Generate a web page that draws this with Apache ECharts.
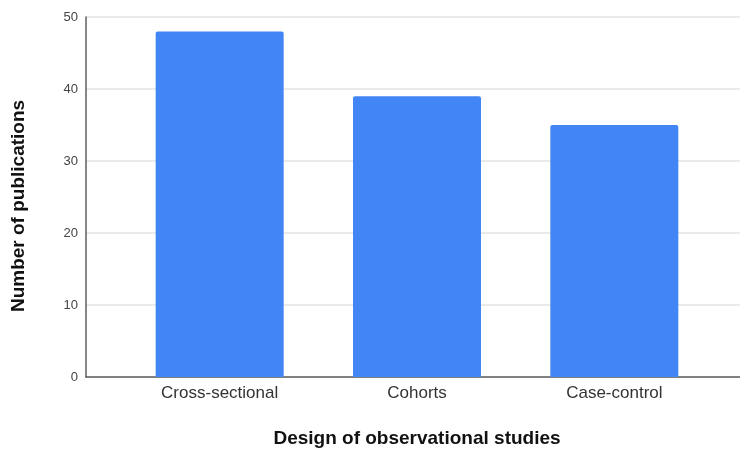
<!DOCTYPE html>
<html>
<head>
<meta charset="utf-8">
<script src="https://cdn.jsdelivr.net/npm/echarts@6/dist/echarts.min.js"></script>
<style>
  html, body { margin: 0; padding: 0; background: #fff; }
  #chart { width: 740px; height: 453px; }
</style>
</head>
<body>
<div id="chart"></div>
<script>
// Study designs and publication counts
const categories = ['Cross-sectional', 'Cohorts', 'Case-control'];
const publications = [48, 39, 35];
const yTicks = [0, 10, 20, 30, 40, 50];

const font = 'Liberation Sans, Arial, sans-serif';
const chart = echarts.init(document.getElementById('chart'));

chart.setOption({
  animation: false,
  backgroundColor: '#ffffff',
  grid: [
    // frame grid: gridlines and axis lines
    { left: 86, right: -20, top: 17, bottom: 76, outerBoundsMode: 'none' },
    // bar grid: categories laid out in the inner band
    { left: 121, width: 592, top: 17, bottom: 76, outerBoundsMode: 'none' }
  ],
  xAxis: [
    {
      gridIndex: 0, type: 'value', min: 0, max: 1,
      axisLine: { show: true, onZero: false, lineStyle: { color: '#5f5f5f', width: 1.5 } },
      axisTick: { show: false }, axisLabel: { show: false }, splitLine: { show: false }
    },
    {
      gridIndex: 1, type: 'category', data: categories,
      axisLine: { show: false }, axisTick: { show: false },
      axisLabel: { color: '#333', fontFamily: font, fontSize: 17, margin: 8 },
      name: 'Design of observational studies',
      nameLocation: 'middle', nameGap: 52,
      nameTextStyle: { color: '#111', fontFamily: font, fontSize: 19, fontWeight: 'bold' }
    }
  ],
  yAxis: [
    {
      gridIndex: 0, type: 'value', min: yTicks[0], max: yTicks[yTicks.length - 1], interval: 10,
      axisLine: { show: true, lineStyle: { color: '#5f5f5f', width: 1.5 } },
      axisTick: { show: false },
      axisLabel: { color: '#444', fontFamily: font, fontSize: 13, margin: 8 },
      splitLine: { lineStyle: { color: '#e3e3e3', width: 1.5 } },
      name: 'Number of publications',
      nameLocation: 'middle', nameGap: 58,
      nameTextStyle: { color: '#111', fontFamily: font, fontSize: 19, fontWeight: 'bold', padding: [0, 0, 0, -18] }
    },
    {
      gridIndex: 1, type: 'value', min: yTicks[0], max: yTicks[yTicks.length - 1], interval: 10,
      show: false, splitLine: { show: false }
    }
  ],
  series: [
    {
      type: 'bar', xAxisIndex: 1, yAxisIndex: 1,
      data: publications, barWidth: 128,
      itemStyle: { color: '#4285f4', borderRadius: [2, 2, 0, 0] }
    }
  ]
});
</script>
</body>
</html>
